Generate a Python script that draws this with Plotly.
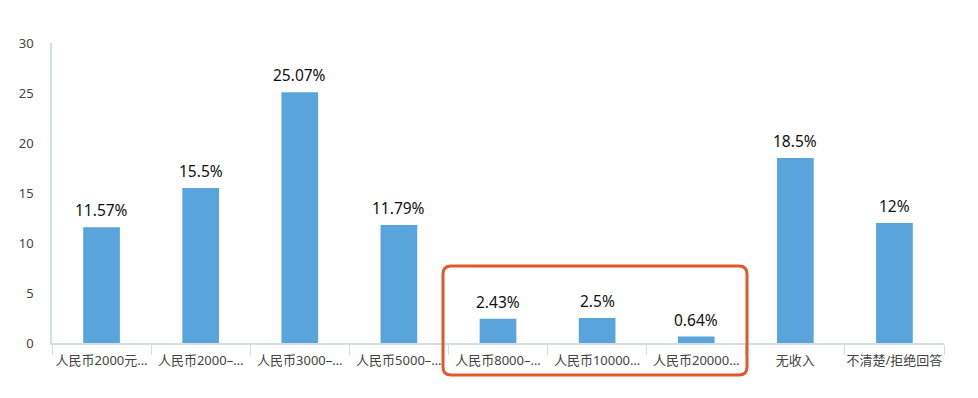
import plotly.graph_objects as go

categories = ["人民币2000元…", "人民币2000–…", "人民币3000–…", "人民币5000–…",
              "人民币8000–…", "人民币10000…", "人民币20000…", "无收入", "不清楚/拒绝回答"]
values = [11.57, 15.5, 25.07, 11.79, 2.43, 2.5, 0.64, 18.5, 12]
labels = ["11.57%", "15.5%", "25.07%", "11.79%", "2.43%", "2.5%", "0.64%", "18.5%", "12%"]
y_ticks = [0, 5, 10, 15, 20, 25, 30]

W, H = 978, 398
L, R, T, B = 52, 34, 43, 55
pw, ph = W - L - R, H - T - B

fig = go.Figure(go.Bar(
    x=categories, y=values,
    marker=dict(color="#58A4DB", line=dict(width=0)),
    hoverinfo="skip",
))

for c, v, t in zip(categories, values, labels):
    fig.add_annotation(x=c, y=v, text=t, showarrow=False, yanchor="bottom",
                       yshift=4, font=dict(size=15.5, color="#111111"))

# rounded highlight box (pixel -> paper)
x0p, x1p, y0p, y1p, rad = 443, 747, 266, 375, 8
def px(x): return (x - L) / pw
def py(y): return (H - B - y) / ph
rx, ry = rad / pw, rad / ph
X0, X1, Y0, Y1 = px(x0p), px(x1p), py(y1p), py(y0p)
path = (f"M {X0+rx},{Y1} L {X1-rx},{Y1} Q {X1},{Y1} {X1},{Y1-ry} "
        f"L {X1},{Y0+ry} Q {X1},{Y0} {X1-rx},{Y0} L {X0+rx},{Y0} "
        f"Q {X0},{Y0} {X0},{Y0+ry} L {X0},{Y1-ry} Q {X0},{Y1} {X0+rx},{Y1} Z")

fig.update_layout(
    width=W, height=H, margin=dict(l=L, r=R, t=T, b=B, autoexpand=False),
    paper_bgcolor="white", plot_bgcolor="white",
    font=dict(family="Noto Sans, Noto Sans CJK SC, sans-serif", color="#444444"),
    bargap=0.63, showlegend=False,
    xaxis=dict(showline=True, linecolor="#D5DCE4", linewidth=1.5,
               ticks="outside", tickson="boundaries", ticklen=10, tickcolor="#D5DCE4",
               ticklabelstandoff=5, tickangle=0, automargin=False,
               tickfont=dict(size=13, color="#444444"), showgrid=False),
    yaxis=dict(range=[0, 30], tickvals=y_ticks, showline=True, linecolor="#D5DCE4",
               linewidth=1.5, showgrid=False, zeroline=False, ticks="",
               automargin=False,
               ticklabelstandoff=14, tickfont=dict(size=13, color="#444444")),
    shapes=[dict(type="path", path=path, xref="paper", yref="paper",
                 line=dict(color="#E2582D", width=3), fillcolor="rgba(0,0,0,0)")],
)

fig.write_html("out.html")
